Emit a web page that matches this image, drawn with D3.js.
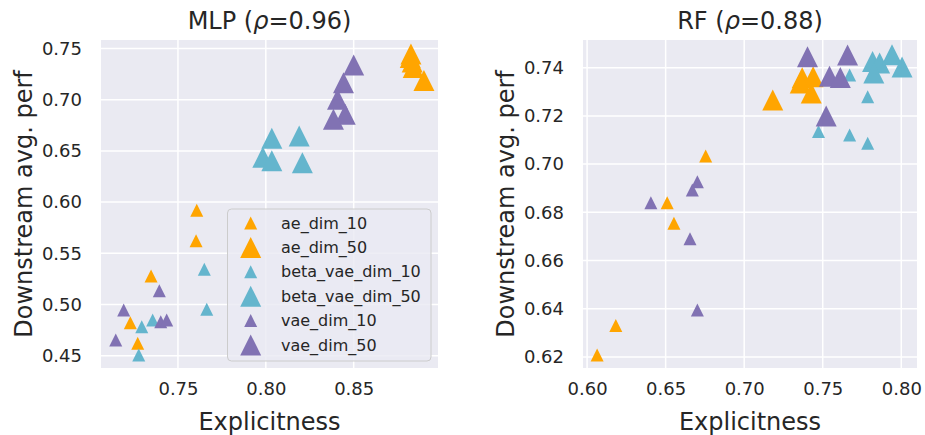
<!DOCTYPE html>
<html>
<head>
<meta charset="utf-8">
<script src="https://cdn.jsdelivr.net/npm/d3@7"></script>
<style>
  html, body { margin: 0; padding: 0; background: #ffffff; }
  svg { display: block; font-family: "DejaVu Sans", sans-serif; }
</style>
</head>
<body>
<svg id="chart" width="925" height="435"></svg>
<script>
// ---------- data ----------
const seriesNames = ["ae_dim_10", "ae_dim_50", "beta_vae_dim_10", "beta_vae_dim_50", "vae_dim_10", "vae_dim_50"];
const seriesColors = ["#FFA500", "#FFA500", "#64B5CD", "#64B5CD", "#8172B3", "#8172B3"];
const seriesIsLarge = [false, true, false, true, false, true];

// MLP panel: [explicitness, downstream perf]
const mlp_ae_dim_10 = [[0.7607,0.5920],[0.7603,0.5623],[0.7347,0.5278],[0.7229,0.4822],[0.7271,0.4621]];
const mlp_ae_dim_50 = [[0.8826,0.7446],[0.8822,0.7412],[0.8833,0.7368],[0.8839,0.7314],[0.8900,0.7188]];
const mlp_beta_vae_dim_10 = [[0.7650,0.5344],[0.7664,0.4953],[0.7294,0.4783],[0.7356,0.4849],[0.7277,0.4507]];
const mlp_beta_vae_dim_50 = [[0.8034,0.6623],[0.8190,0.6645],[0.7983,0.6438],[0.8034,0.6404],[0.8208,0.6385]];
const mlp_vae_dim_10 = [[0.7394,0.5135],[0.7191,0.4946],[0.7402,0.4832],[0.7436,0.4849],[0.7146,0.4653]];
const mlp_vae_dim_50 = [[0.8500,0.7339],[0.8442,0.7166],[0.8408,0.7004],[0.8452,0.6857],[0.8385,0.6808]];

// RF panel
const rf_ae_dim_10 = [[0.6755,0.7034],[0.6510,0.6840],[0.6553,0.6755],[0.6183,0.6330],[0.6064,0.6208]];
const rf_ae_dim_50 = [[0.7369,0.7358],[0.7439,0.7362],[0.7357,0.7337],[0.7427,0.7295],[0.7182,0.7266]];
const rf_beta_vae_dim_10 = [[0.7671,0.7370],[0.7786,0.7280],[0.7473,0.7135],[0.7671,0.7121],[0.7786,0.7087]];
const rf_beta_vae_dim_50 = [[0.7817,0.7426],[0.7862,0.7420],[0.7941,0.7454],[0.8005,0.7403],[0.7825,0.7378]];
const rf_vae_dim_10 = [[0.6702,0.6927],[0.6670,0.6893],[0.6406,0.6840],[0.6655,0.6690],[0.6702,0.6395]];
const rf_vae_dim_50 = [[0.7403,0.7445],[0.7658,0.7453],[0.7543,0.7365],[0.7612,0.7359],[0.7522,0.7200]];

const mlpXTicks = [0.75, 0.80, 0.85];
const mlpYTicks = [0.45, 0.50, 0.55, 0.60, 0.65, 0.70, 0.75];
const rfXTicks = [0.60, 0.65, 0.70, 0.75, 0.80];
const rfYTicks = [0.62, 0.64, 0.66, 0.68, 0.70, 0.72, 0.74];

const mlpXLimits = [0.7062, 0.898];
const mlpYLimits = [0.438, 0.7583];
const rfXLimits = [0.5974, 0.810];
const rfYLimits = [0.6154, 0.7515];

const panels = [
  { title: "MLP", rho: "0.96", data: [mlp_ae_dim_10, mlp_ae_dim_50, mlp_beta_vae_dim_10, mlp_beta_vae_dim_50, mlp_vae_dim_10, mlp_vae_dim_50],
    xLim: mlpXLimits, yLim: mlpYLimits, xTicks: mlpXTicks, yTicks: mlpYTicks,
    left: 101, right: 438, top: 40, bottom: 368, legend: true },
  { title: "RF", rho: "0.88", data: [rf_ae_dim_10, rf_ae_dim_50, rf_beta_vae_dim_10, rf_beta_vae_dim_50, rf_vae_dim_10, rf_vae_dim_50],
    xLim: rfXLimits, yLim: rfYLimits, xTicks: rfXTicks, yTicks: rfYTicks,
    left: 583, right: 917, top: 40, bottom: 368, legend: false }
];

// ---------- drawing ----------
const svg = d3.select("#chart");
const textColor = "#262626";
const smallSize = 13, largeSize = 21;
const tri = s => `M0,${-s/2}L${s/2},${s/2}L${-s/2},${s/2}Z`;

panels.forEach(p => {
  const x = d3.scaleLinear().domain(p.xLim).range([p.left, p.right]);
  const y = d3.scaleLinear().domain(p.yLim).range([p.bottom, p.top]);
  const g = svg.append("g");

  g.append("rect").attr("x", p.left).attr("y", p.top)
    .attr("width", p.right - p.left).attr("height", p.bottom - p.top)
    .attr("fill", "#EAEAF2");

  // grid
  g.selectAll(".gx").data(p.xTicks).join("line")
    .attr("x1", d => x(d)).attr("x2", d => x(d))
    .attr("y1", p.top).attr("y2", p.bottom)
    .attr("stroke", "#fff").attr("stroke-width", 1.5);
  g.selectAll(".gy").data(p.yTicks).join("line")
    .attr("y1", d => y(d)).attr("y2", d => y(d))
    .attr("x1", p.left).attr("x2", p.right)
    .attr("stroke", "#fff").attr("stroke-width", 1.5);

  // axes
  const xAxis = g.append("g").attr("transform", `translate(0,${p.bottom})`)
    .call(d3.axisBottom(x).tickValues(p.xTicks).tickSize(0).tickPadding(10).tickFormat(d3.format(".2f")));
  const yAxis = g.append("g").attr("transform", `translate(${p.left},0)`)
    .call(d3.axisLeft(y).tickValues(p.yTicks).tickSize(0).tickPadding(19).tickFormat(d3.format(".2f")));
  [xAxis, yAxis].forEach(a => {
    a.select(".domain").remove();
    a.selectAll("text").attr("fill", textColor).style("font-size", "18px")
      .style("font-family", "'DejaVu Sans', sans-serif");
  });
  xAxis.selectAll("text").attr("dy", "0.95em");

  // points
  p.data.forEach((pts, si) => {
    const s = seriesIsLarge[si] ? largeSize : smallSize;
    g.selectAll(null).data(pts).join("path")
      .attr("d", tri(s))
      .attr("transform", d => `translate(${x(d[0])},${y(d[1])})`)
      .attr("fill", seriesColors[si]);
  });

  const cx = (p.left + p.right) / 2;
  const cy = (p.top + p.bottom) / 2;

  // title
  const t = g.append("text").attr("x", cx).attr("y", 29)
    .attr("text-anchor", "middle").attr("fill", textColor).style("font-size", "24px");
  t.append("tspan").text(p.title + " (");
  t.append("tspan").attr("font-style", "italic").text("ρ");
  t.append("tspan").text("=" + p.rho + ")");

  // axis labels
  g.append("text").attr("x", cx).attr("y", 430).attr("text-anchor", "middle")
    .attr("fill", textColor).style("font-size", "24px").text("Explicitness");
  g.append("text").attr("transform", `translate(${p.left - 69},${cy}) rotate(-90)`)
    .attr("text-anchor", "middle").attr("fill", textColor).style("font-size", "24px")
    .text("Downstream avg. perf");

  // legend
  if (p.legend) {
    const lg = g.append("g");
    lg.append("rect").attr("x", 227.5).attr("y", 209).attr("width", 203.5).attr("height", 152)
      .attr("rx", 4).attr("fill", "#EAEAF2").attr("fill-opacity", 0.8)
      .attr("stroke", "#CCCCCC").attr("stroke-width", 1);
    seriesNames.forEach((name, i) => {
      const ry = 223 + i * 24.4;
      const s = seriesIsLarge[i] ? largeSize : smallSize;
      lg.append("path").attr("d", tri(s)).attr("transform", `translate(250.7,${ry})`)
        .attr("fill", seriesColors[i]);
      lg.append("text").attr("x", 281).attr("y", ry).attr("dy", "0.35em")
        .attr("fill", textColor).style("font-size", "16px").text(name);
    });
  }
});
</script>
</body>
</html>
